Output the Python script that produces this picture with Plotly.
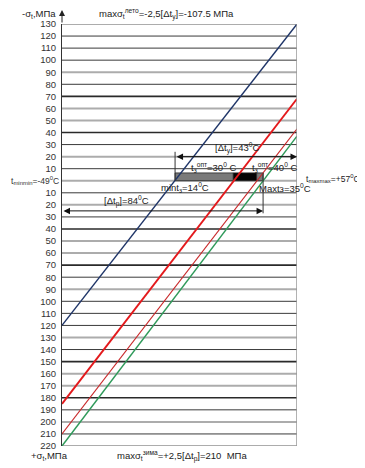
import plotly.graph_objects as go

# ---------------- data ----------------
stress_ticks = [130, 120, 110, 100, 90, 80, 70, 60, 50, 40, 30, 20, 10, 0,
                -10, -20, -30, -40, -50, -60, -70, -80, -90, -100, -110, -120,
                -130, -140, -150, -160, -170, -180, -190, -200, -210, -220]
tick_labels = [str(abs(v)) for v in stress_ticks]
tick_labels[stress_ticks.index(0)] = "t<sub>minmin</sub>=-49<sup>0</sup>C"

t_min = -49
t_max = 57

line_names = ["blue", "red", "red2", "green"]
sigma_at_tmin = [-120, -185, -210, -220]
sigma_at_tmax = [130, 68, 43, 37]

bar_edges = [2.0, 28.3, 38.8, 41.7]   # temperature boundaries of the bar segments
bar_height = 6.5

dt_y_span = [2.0, 57.0]    # [Δt_у] arrow
dt_y_level = 20
dt_r_span = [-49.0, 41.7]  # [Δt_р] arrow
dt_r_level = -25

# ---------------- styling ----------------
FONT = "Liberation Sans, Arial, sans-serif"
GRID_KIND = "gdddg" + "dDggD" + "dgdgd" + "gdDgg" + "Ddgdd" + "dgdDg" + "gDdgd" + "g"
GRID_STYLE = {"g": ("#acacac", 2.0), "d": ("#3a3a3a", 1.0), "D": ("#2a2a2a", 1.6)}
LINE_STYLE = {"blue": ("#1f3568", 1.4), "red": ("#e3191c", 1.9),
              "red2": ("#c8282a", 1.1), "green": ("#2f9a5a", 1.5)}

fig = go.Figure()

shapes = []
for v, k in zip(stress_ticks, GRID_KIND):
    c, w = GRID_STYLE[k]
    shapes.append(dict(type="line", xref="x", yref="y", x0=t_min, x1=t_max, y0=v, y1=v,
                       line=dict(color=c, width=w), layer="below"))
# right border
shapes.append(dict(type="line", xref="x", yref="y", x0=t_max, x1=t_max,
                   y0=stress_ticks[-1], y1=stress_ticks[0], line=dict(color="#999", width=1.5)))
# vertical guide lines
shapes.append(dict(type="line", xref="x", yref="y", x0=bar_edges[0], x1=bar_edges[0],
                   y0=0, y1=dt_y_level + 4, line=dict(color="#333", width=1)))
shapes.append(dict(type="line", xref="x", yref="y", x0=bar_edges[-1], x1=bar_edges[-1],
                   y0=bar_height, y1=dt_r_level - 2, line=dict(color="#333", width=1)))

# bar segments
seg_colors = ["#7a7a7a", "#050505", "#7a7a7a"]
for i in range(3):
    fig.add_trace(go.Bar(y=[bar_height / 2], x=[bar_edges[i + 1] - bar_edges[i]],
                         base=[bar_edges[i]], orientation="h", width=bar_height,
                         marker=dict(color=seg_colors[i], line=dict(color="#222", width=0.8)),
                         showlegend=False, hoverinfo="skip"))

for name, s0, s1 in zip(line_names, sigma_at_tmin, sigma_at_tmax):
    c, w = LINE_STYLE[name]
    fig.add_trace(go.Scatter(x=[t_min, t_max], y=[s0, s1], mode="lines",
                             line=dict(color=c, width=w), showlegend=False, hoverinfo="skip"))

ann = []
tf = dict(family=FONT, size=9.5, color="#222")
# double arrows
for span, lvl in [(dt_y_span, dt_y_level), (dt_r_span, dt_r_level)]:
    ann.append(dict(x=span[1], y=lvl, ax=span[0], ay=lvl, xref="x", yref="y", axref="x", ayref="y",
                    text="", showarrow=True, arrowhead=2, arrowside="end+start",
                    arrowsize=1.3, arrowwidth=1, arrowcolor="#111"))
# axis arrow on top
ann.append(dict(x=t_min, y=1.0, xref="x", yref="paper", yshift=14, ax=0, ay=14, text="",
                showarrow=True, arrowhead=2, arrowsize=1.2, arrowwidth=1, arrowcolor="#222"))

labels = [
    dict(x=30, y=27, text="[Δt<sub>у</sub>]=43<sup>0</sup>C"),
    dict(x=-20, y=-17, text="[Δt<sub>р</sub>]=84<sup>0</sup>C"),
    dict(x=19.5, y=11, text="t<sub>з</sub><sup>опт</sup>=30<sup>0</sup> C"),
    dict(x=47, y=11, text="t<sub>з</sub><sup>опт</sup>=40<sup>0</sup> C"),
    dict(x=6.5, y=-6, text="mint<sub>з</sub>=14<sup>0</sup>C"),
    dict(x=51.8, y=-6, text="Maxtз=35<sup>0</sup>C"),
]
for a in labels:
    a.update(xref="x", yref="y", showarrow=False, font=tf)
ann += labels

# t_minmin label at the zero row (drawn smaller so it fits the left margin)
zero_i = stress_ticks.index(0)
ann.append(dict(x=0, xref="paper", xshift=-1, y=stress_ticks[zero_i], yref="y", xanchor="right",
                text=tick_labels[zero_i], showarrow=False,
                font=dict(family=FONT, size=8.5, color="#333")))
ann.append(dict(x=1.0, xref="paper", xshift=7, y=2, yref="y", xanchor="left",
                text="t<sub>maxmax</sub>=+57<sup>0</sup>C", showarrow=False,
                font=dict(family=FONT, size=8.5, color="#222")))

hf = dict(family=FONT, size=9.5, color="#222")
ann += [
    dict(x=0, xref="paper", xshift=-4, y=1.0, yref="paper", yshift=10, xanchor="right",
         yanchor="middle", text="-σ<sub>t</sub>,МПа", showarrow=False, font=hf),
    dict(x=-33, xref="x", y=1.0, yref="paper", yshift=10, xanchor="left", yanchor="middle",
         text="maxσ<sub>t</sub><sup>лето</sup>=-2,5[Δt<sub>у</sub>]=-107.5 МПа", showarrow=False, font=hf),
    dict(x=0, xref="paper", xshift=8, y=0, yref="paper", yshift=-10, xanchor="right",
         yanchor="middle", text="+σ<sub>t</sub>,МПа", showarrow=False, font=hf),
    dict(x=-25, xref="x", y=0, yref="paper", yshift=-10, xanchor="left", yanchor="middle",
         text="maxσ<sub>t</sub><sup>зима</sup>=+2,5[Δt<sub>р</sub>]=210  МПа", showarrow=False, font=hf),
]

axis_labels = [("" if i == zero_i else s) for i, s in enumerate(tick_labels)]

# the page body keeps an 8px browser margin; the figure starts at (8, 8) and runs to the window edge
fig.update_layout(
    width=357, height=460,
    margin=dict(l=54, r=68, t=16, b=22),
    paper_bgcolor="white", plot_bgcolor="white",
    shapes=shapes, annotations=ann, barmode="overlay",
    xaxis=dict(range=[t_min, t_max], showticklabels=False, showgrid=False, zeroline=False,
               ticks="", fixedrange=True, automargin=False),
    yaxis=dict(range=[stress_ticks[-1], stress_ticks[0]], tickvals=stress_ticks, ticktext=axis_labels,
               showgrid=False, zeroline=False, showline=True, linecolor="#333", linewidth=1,
               ticks="", ticklabelstandoff=3, automargin=False,
               tickfont=dict(family=FONT, size=9.5, color="#333")),
    font=dict(family=FONT),
)

fig.write_html("out.html")
